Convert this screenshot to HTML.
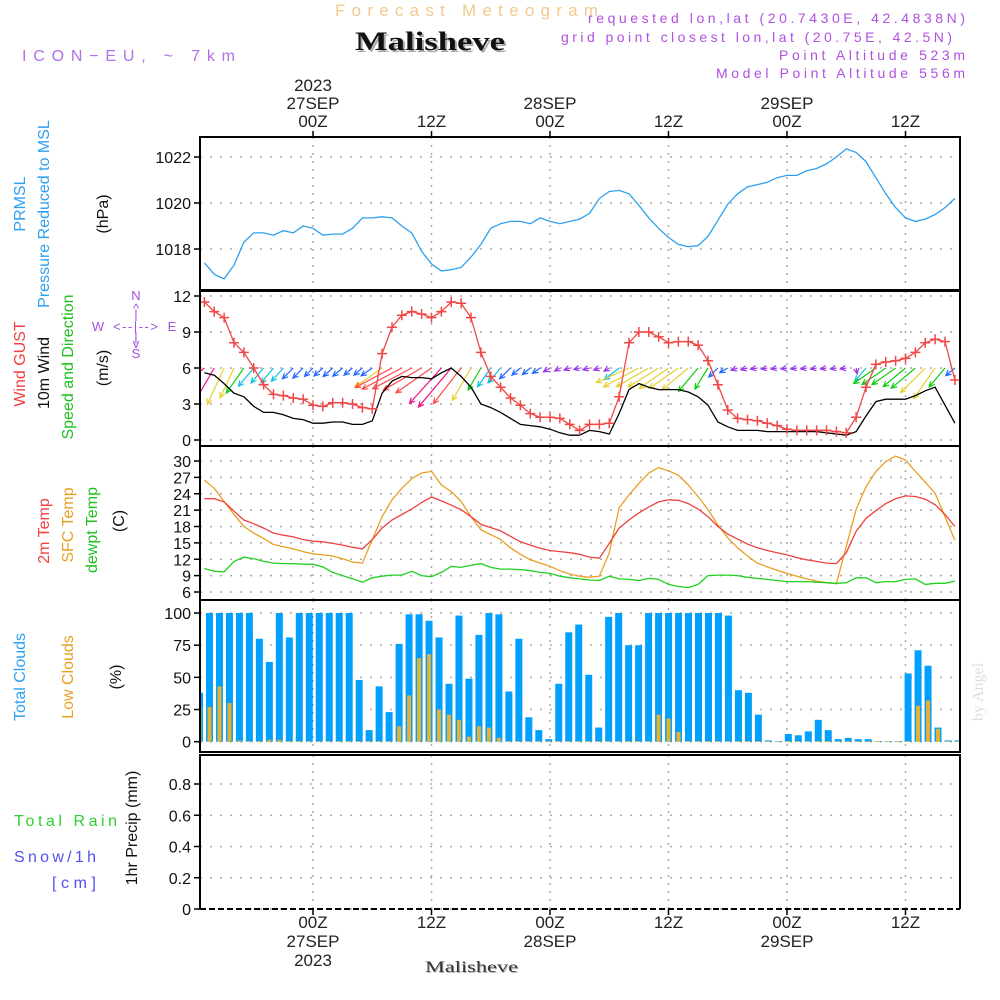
<!DOCTYPE html>
<html><head><meta charset="utf-8"><title>Meteogram Malisheve</title>
<style>
html,body{margin:0;padding:0;background:#fff;}
svg{display:block;font-family:"Liberation Sans",sans-serif;}
</style></head>
<body>
<svg id="chart" width="1000" height="1000" viewBox="0 0 1000 1000" xmlns="http://www.w3.org/2000/svg">
<rect x="0" y="0" width="1000" height="1000" fill="#fff"/>
<text x="335" y="16" font-size="17" fill="#f3c98f" textLength="263" lengthAdjust="spacing">Forecast Meteogram</text>
<text x="357" y="52" font-size="26" font-weight="bold" font-family="Liberation Serif, serif" fill="#aaa" textLength="150" lengthAdjust="spacingAndGlyphs">Malisheve</text>
<text x="355" y="50" font-size="26" font-weight="bold" font-family="Liberation Serif, serif" fill="#111" textLength="150" lengthAdjust="spacingAndGlyphs">Malisheve</text>
<text x="22" y="61" font-size="16" fill="#b070e8" textLength="213" lengthAdjust="spacing">ICON−EU, ~ 7km</text>
<g fill="#b050e0" font-size="14">
<text x="588" y="23" textLength="377" lengthAdjust="spacing">requested lon,lat (20.7430E, 42.4838N)</text>
<text x="561" y="42" textLength="391" lengthAdjust="spacing">grid point closest lon,lat (20.75E, 42.5N)</text>
<text x="779" y="60" textLength="186" lengthAdjust="spacing">Point Altitude 523m</text>
<text x="716" y="78" textLength="249" lengthAdjust="spacing">Model Point Altitude 556m</text>
</g>
<g font-size="16">
<text transform="translate(25,204) rotate(-90)" text-anchor="middle" fill="#2fa0f0">PRMSL</text>
<text transform="translate(49,214) rotate(-90)" text-anchor="middle" fill="#2fa0f0">Pressure Reduced to MSL</text>
<text transform="translate(108,214) rotate(-90)" text-anchor="middle" fill="#111">(hPa)</text>
<text transform="translate(25,364) rotate(-90)" text-anchor="middle" fill="#f04040">Wind GUST</text>
<text transform="translate(49,373) rotate(-90)" text-anchor="middle" fill="#111">10m Wind</text>
<text transform="translate(73,367) rotate(-90)" text-anchor="middle" fill="#20c020">Speed and Direction</text>
<text transform="translate(108,368) rotate(-90)" text-anchor="middle" fill="#111">(m/s)</text>
<text transform="translate(49,531) rotate(-90)" text-anchor="middle" fill="#f04040">2m Temp</text>
<text transform="translate(73,525) rotate(-90)" text-anchor="middle" fill="#e8a020">SFC Temp</text>
<text transform="translate(97,530) rotate(-90)" text-anchor="middle" fill="#20c020">dewpt Temp</text>
<text transform="translate(124,521) rotate(-90)" text-anchor="middle" fill="#111">(C)</text>
<text transform="translate(25,677) rotate(-90)" text-anchor="middle" fill="#2fa0f0">Total Clouds</text>
<text transform="translate(73,677) rotate(-90)" text-anchor="middle" fill="#e8a020">Low Clouds</text>
<text transform="translate(121,677) rotate(-90)" text-anchor="middle" fill="#111">(%)</text>
<text transform="translate(137,828) rotate(-90)" text-anchor="middle" fill="#111">1hr Precip (mm)</text>
<text x="14" y="826" fill="#30d030" textLength="103" lengthAdjust="spacing">Total Rain</text>
<text x="14" y="862" fill="#5050f0" textLength="82" lengthAdjust="spacing">Snow/1h</text>
<text x="52" y="888" fill="#5050f0" textLength="44" lengthAdjust="spacing">[cm]</text>
</g>
<g fill="#a050e0" font-size="13" text-anchor="middle">
<text x="136" y="300">N</text><text x="136" y="313">^</text><text x="136" y="319">|</text>
<text x="98" y="331">W</text><text x="113" y="331" text-anchor="start" textLength="45" lengthAdjust="spacing">&lt;--|--&gt;</text><text x="172" y="331">E</text>
<text x="136" y="341">|</text><text x="136" y="348">v</text><text x="136" y="358">S</text>
</g>
<text transform="translate(983,692) rotate(-90)" text-anchor="middle" font-size="16" font-family="Liberation Serif, serif" fill="#ddd">by Angel</text>
<text x="426" y="973" font-size="16" font-family="Liberation Serif, serif" fill="#aaa" textLength="93" lengthAdjust="spacingAndGlyphs">Malisheve</text>
<text x="425" y="972" font-size="16" font-family="Liberation Serif, serif" fill="#333" textLength="93" lengthAdjust="spacingAndGlyphs">Malisheve</text>
<g id="plot"></g>
</svg>
<script>
const hoursStart = -11;
const pressure = [1017.4,1016.9,1016.7,1017.3,1018.3,1018.7,1018.7,1018.6,1018.8,1018.7,1019.0,
1018.9,1018.6,1018.65,1018.65,1018.9,1019.35,1019.35,1019.4,1019.35,1019.0,1018.7,1017.9,1017.35,1017.05,1017.1,1017.2,1017.65,1018.2,1018.9,1019.1,1019.2,1019.2,1019.1,1019.35,1019.2,
1019.1,1019.2,1019.3,1019.55,1020.2,1020.5,1020.55,1020.4,1019.9,1019.35,1018.9,1018.5,1018.2,1018.1,1018.15,1018.55,1019.25,1019.95,1020.4,1020.7,1020.8,1020.9,1021.1,1021.2,1021.2,1021.4,1021.5,1021.7,1022.0,1022.35,1022.2,1021.8,1021.1,1020.4,1019.8,1019.35,1019.2,1019.3,1019.5,1019.8,1020.2];
const gust = [11.5,10.7,10.2,8.1,7.3,6.0,4.6,3.8,3.7,3.5,3.4,2.9,2.8,3.1,3.1,3.0,2.7,2.6,7.2,9.4,10.4,10.7,10.5,10.2,10.7,11.5,11.4,10.2,7.3,5.3,4.4,3.5,2.9,2.2,1.9,1.9,1.8,1.3,0.8,1.3,1.3,1.4,3.6,8.1,9.0,9.0,8.6,8.1,8.2,8.2,7.9,6.6,4.6,2.5,1.8,1.7,1.6,1.4,1.2,0.9,0.8,0.8,0.8,0.8,0.7,0.6,1.9,4.4,6.3,6.5,6.6,6.8,7.3,8.1,8.4,8.2,5.0];
const windSpeed = [5.6,5.4,4.7,3.9,3.6,2.8,2.3,2.3,2.1,1.8,1.7,1.4,1.4,1.5,1.5,1.3,1.3,1.6,3.9,4.9,5.3,5.2,5.2,5.1,5.6,6.0,5.3,4.4,3.0,2.7,2.3,1.8,1.3,1.2,1.1,0.9,0.6,0.4,0.4,0.8,0.7,0.5,2.2,4.2,4.7,4.4,4.2,4.2,4.2,4.0,3.6,2.9,1.5,1.1,0.8,0.8,0.8,0.7,0.7,0.7,0.7,0.7,0.7,0.6,0.5,0.4,0.7,2.0,3.2,3.4,3.4,3.4,3.7,4.1,4.4,2.9,1.4];
const windDir = [50,30,25,25,35,40,40,40,42,45,45,45,48,48,50,50,50,55,55,62,62,62,60,55,42,40,38,30,30,35,40,45,50,50,55,60,60,70,75,75,70,60,52,66,62,60,58,55,55,50,40,32,45,60,70,75,80,80,80,80,80,80,80,80,80,80,350,40,55,55,55,50,50,45,35,40,50];
const temp2m = [23.1,23.1,22.5,20.8,19.2,18.5,17.7,16.8,16.4,16.1,15.6,15.3,15.2,14.9,14.6,14.2,13.9,15.6,17.7,19.2,20.2,21.2,22.4,23.4,22.7,21.9,21.1,19.8,18.4,17.8,17.2,16.2,15.2,14.6,14.0,13.6,13.4,13.2,12.9,12.4,12.2,14.9,17.7,19.2,20.5,21.6,22.5,22.9,22.8,22.2,21.2,19.8,18.0,16.6,15.7,14.8,14.1,13.6,13.2,12.8,12.3,11.9,11.6,11.3,11.2,13.2,17.1,19.5,20.9,22.2,23.1,23.6,23.5,23.0,22.0,20.2,18.0];
const tempSfc = [26.5,25.0,22.6,20.2,18.0,16.8,15.8,14.7,14.3,13.9,13.4,13.0,12.8,12.6,12.1,11.5,11.3,15.6,19.8,22.9,25.0,26.8,27.8,28.1,25.6,24.4,22.6,19.8,17.4,16.5,15.6,14.1,12.9,11.9,11.3,10.7,9.9,9.3,8.9,8.7,8.9,13.2,21.4,23.8,25.9,27.8,28.8,28.2,27.4,25.6,23.5,21.1,18.3,15.9,14.1,12.6,11.3,10.6,10.0,9.4,8.9,8.4,8.0,7.7,7.5,14.4,21.1,25.3,28.1,29.9,30.9,30.2,28.1,26.1,24.1,19.8,15.5];
const dewpt = [10.3,9.8,9.7,11.6,12.4,12.1,11.6,11.3,11.2,11.2,11.1,11.1,10.6,9.6,9.0,8.4,7.8,8.6,8.9,9.1,9.1,9.8,9.0,8.8,9.6,10.7,10.5,10.9,11.2,10.5,10.2,10.2,10.1,9.9,9.6,9.4,8.9,8.6,8.4,8.2,8.1,8.9,8.4,8.3,8.1,8.5,8.3,7.4,7.0,6.8,7.4,9.0,9.1,9.1,9.0,8.7,8.5,8.3,8.1,7.9,7.9,7.9,7.8,7.7,7.6,7.7,8.6,8.6,7.7,7.9,7.9,8.3,8.4,7.4,7.6,7.6,8.0];
const totalClouds = [38,100,100,100,100,100,80,62,100,81,100,100,100,100,100,100,48,9,43,23,76,99,99,94,81,45,98,49,83,100,99,39,80,19,9,2,45,85,91,52,11,97,100,75,75,100,100,100,100,100,100,100,100,98,40,38,21,1,0.5,6,5,8,17,9,2,3,2,2,0.5,0.5,0.5,53,71,59,11,1,1];
const lowClouds = [27,27,43,30,1,0.5,0.5,1.5,1.5,0.5,0.5,0.5,0.5,0.5,0.5,0.5,0.5,0.5,0.5,0.5,12,36,65,68,25,21,17,4,12,11,3,0.5,0.5,0.5,0.5,0.5,0.5,0.5,0.5,0.5,0.5,0.5,0.5,0.5,0.5,0.5,21,18,7.5,0.5,0.5,0.5,0.5,0.5,0.5,0.5,0.5,0.5,0.5,0.5,0.5,0.5,0.5,0.5,0.5,0.5,0.5,0.5,0.5,0.5,0.5,0.5,28,32,10,0.5,0.5];
const precip = [];
const pressureTicks = [1018,1020,1022];
const windTicks = [0,3,6,9,12];
const tempTicks = [6,9,12,15,18,21,24,27,30];
const cloudTicks = [0,25,50,75,100];
const precipTicks = [0,0.2,0.4,0.6,0.8];
const precipTickLabels = ["0","0.2","0.4","0.6","0.8"];
const timeTicks = [0,12,24,36,48,60];
const timeTickLabels = ["00Z","12Z","00Z","12Z","00Z","12Z"];
const dateLabels = ["27SEP","","28SEP","","29SEP",""];

const x = h => 313 + h*9.875;
const xBar = k => 199.5 + k*9.98;
const yP = v => 249 - (v-1018)*23;
const yW = v => 440 - v*12;
const yT = v => 592 - (v-6)*5.458;
const yC = v => 741.7 - v*1.287;
const yR = v => 909 - v*156.25;
const panels = [
 {name:'pressure-panel', y0:137, y1:290, ticks:pressureTicks, lab:pressureTicks.map(String), f:yP},
 {name:'wind-panel', y0:291, y1:446, ticks:windTicks, lab:windTicks.map(String), f:yW},
 {name:'temp-panel', y0:446, y1:600, ticks:tempTicks, lab:tempTicks.map(String), f:yT},
 {name:'clouds-panel', y0:600, y1:752, ticks:cloudTicks, lab:cloudTicks.map(String), f:yC},
 {name:'precip-panel', y0:755, y1:909, ticks:precipTicks, lab:precipTickLabels, f:yR}
];
const NS='http://www.w3.org/2000/svg';
const plot=document.getElementById('plot');
function mk(tag, attrs, parent){const e=document.createElementNS(NS,tag);for(const k in attrs)e.setAttribute(k,attrs[k]);(parent||plot).appendChild(e);return e;}
const hx = i => x(hoursStart+i);

const defs=mk('defs',{});
panels.forEach((p,i)=>{const c=mk('clipPath',{id:'clip'+i},defs);mk('rect',{x:201,y:p.y0+1,width:758,height:p.y1-p.y0-2},c);});

panels.forEach((p,pi)=>{
  const g=mk('g',{});
  
  
  timeTicks.forEach(t=>{
    const l=mk('line',{x1:x(t),x2:x(t),y1:p.y0,y2:p.y1,stroke:'#aaa','stroke-width':1.5,'stroke-dasharray':'2,6'},g);
    
    
  });
  p.ticks.forEach((t,i)=>{
    const yy=p.f(t);
    const l=mk('line',{x1:200,x2:960,y1:yy,y2:yy,stroke:'#aaa','stroke-width':1.5,'stroke-dasharray':'2,8'},g);
    
    
    const tk=mk('line',{x1:194,x2:200,y1:yy,y2:yy,stroke:'#000','stroke-width':1.5},g);
    
    
    const tx=mk('text',{x:191,y:yy+6,'text-anchor':'end','font-size':16,fill:'#111'},g);
    tx.textContent=p.lab[i];
    
    
  });
});
[[137,290],[291,446],[446,600],[600,752]].forEach(r=>{
  const fr=mk('rect',{x:200,y:r[0],width:760,height:r[1]-r[0],fill:'none',stroke:'#000','stroke-width':2});
  
  
});
const f5=mk('path',{d:'M200,909 L200,755 L960,755 L960,909',fill:'none',stroke:'#000','stroke-width':2});


const zl=mk('line',{x1:200,x2:960,y1:909,y2:909,stroke:'#000','stroke-width':2,'stroke-dasharray':'6,3'});



timeTicks.forEach((t,i)=>{
  const a=mk('line',{x1:x(t),x2:x(t),y1:131,y2:137,stroke:'#000','stroke-width':1.5});
  
  
  const b=mk('line',{x1:x(t),x2:x(t),y1:909,y2:915,stroke:'#000','stroke-width':1.5});
  
  
  const tt=mk('text',{x:x(t),y:127,'text-anchor':'middle','font-size':17,fill:'#222'});
  tt.textContent=timeTickLabels[i];
  
  
  const bt=mk('text',{x:x(t),y:928,'text-anchor':'middle','font-size':17,fill:'#222'});
  bt.textContent=timeTickLabels[i];
  
  
  if(dateLabels[i]){
    const td=mk('text',{x:x(t),y:109,'text-anchor':'middle','font-size':17,fill:'#222'});
    td.textContent=dateLabels[i];
    
    
    const bd=mk('text',{x:x(t),y:947,'text-anchor':'middle','font-size':17,fill:'#222'});
    bd.textContent=dateLabels[i];
    
    
  }
});
const y1=mk('text',{x:x(0),y:91,'text-anchor':'middle','font-size':17,fill:'#222'});y1.textContent='2023';


const y2=mk('text',{x:x(0),y:966,'text-anchor':'middle','font-size':17,fill:'#222'});y2.textContent='2023';



function line(arr, fy, color, clip, name){
  const d=arr.map((v,i)=>(i?'L':'M')+hx(i).toFixed(1)+','+fy(v).toFixed(1)).join(' ');
  const p=mk('path',{d:d,fill:'none',stroke:color,'stroke-width':1.3,'clip-path':'url(#clip'+clip+')'});
  
  
  return p;
}
line(pressure,yP,'#2fa0f0',0,'pressure-line');

function speedColor(s){
  if(s<1.0) return '#9933ee';
  if(s<2.0) return '#2266ff';
  if(s<2.9) return '#10c0dd';
  if(s<3.8) return '#10cc10';
  if(s<4.8) return '#e8d030';
  if(s<5.4) return '#ff4848';
  return '#ee1188';
}
const wg=mk('g',{'clip-path':'url(#clip1)'});


windSpeed.forEach((s,i)=>{
  const to=(windDir[i]+180)*Math.PI/180;
  const L=Math.max(s*8.5,6);
  const x0=hx(i), y0=yW(6);
  const dx=Math.sin(to)*L, dy=-Math.cos(to)*L;
  const x1=x0+dx, y1b=y0+dy;
  const ang=Math.atan2(-dy,-dx);
  const hl=6, c=speedColor(s);
  const d=`M${x0},${y0} L${x1},${y1b} M${x1+hl*Math.cos(ang+0.45)},${y1b+hl*Math.sin(ang+0.45)} L${x1},${y1b} L${x1+hl*Math.cos(ang-0.45)},${y1b+hl*Math.sin(ang-0.45)}`;
  const a=mk('path',{d:d,fill:'none',stroke:c,'stroke-width':1.2},wg);
  
  
});
line(windSpeed,yW,'#000',1,'wind-speed-line');
line(gust,yW,'#f04848',1,'wind-gust-line');
const gm=mk('g',{stroke:'#f04848','stroke-width':1.5,'clip-path':'url(#clip1)'});


gust.forEach((v,i)=>{
  const cx=hx(i), cy=yW(v);
  const m=mk('path',{d:`M${cx-5},${cy} L${cx+5},${cy} M${cx},${cy-5} L${cx},${cy+5}`},gm);
  
  
});

line(tempSfc,yT,'#e8a020',2,'sfc-temp-line');
line(temp2m,yT,'#f04040',2,'temp-2m-line');
line(dewpt,yT,'#20d020',2,'dewpt-line');

const cg=mk('g',{'clip-path':'url(#clip3)'});


totalClouds.forEach((v,k)=>{
  const b=mk('rect',{x:xBar(k)-3.5,y:yC(v),width:7,height:yC(0)-yC(v),fill:'#00a0ff'},cg);
  
  
});
lowClouds.forEach((v,k)=>{
  const b=mk('rect',{x:xBar(k)-2,y:yC(v),width:4,height:yC(0)-yC(v),fill:'#e8b030'},cg);
  
  
});
precip.forEach((v,i)=>{
  const b=mk('rect',{x:hx(i)-3,y:yR(v),width:6,height:yR(0)-yR(v),fill:'#30d030'});
  
  
});
</script>
</body></html>
